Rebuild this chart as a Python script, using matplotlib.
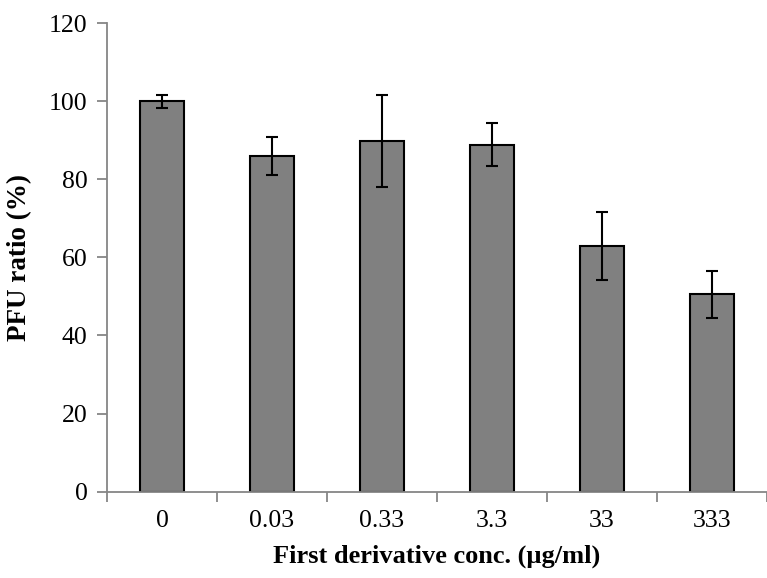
import matplotlib
matplotlib.use("Agg")
import matplotlib.pyplot as plt
import numpy as np

# data
categories = ["0", "0.03", "0.33", "3.3", "33", "333"]
pfu_ratio = [100.0, 86.0, 89.8, 88.8, 62.9, 50.5]
pfu_err = [1.7, 4.8, 11.7, 5.5, 8.6, 6.0]
y_ticks = [0, 20, 40, 60, 80, 100, 120]

plt.rcParams["font.family"] = ["Liberation Serif", "DejaVu Serif"]

fig = plt.figure(figsize=(7.67, 5.78), dpi=100)
ax = fig.add_axes([0.1395, 0.1495, 0.8605, 0.8105])

x = np.arange(len(categories))
ax.bar(x, pfu_ratio, width=0.4, color="#808080", edgecolor="black",
       linewidth=1.5, zorder=2)
ax.errorbar(x, pfu_ratio, yerr=pfu_err, fmt="none", ecolor="black",
            elinewidth=1.5, capsize=4.5, capthick=1.5, zorder=3)

ax.set_xlim(-0.5, len(categories) - 0.5)
ax.set_ylim(0, 120)
ax.set_yticks(y_ticks)
ax.set_yticklabels([str(v) for v in y_ticks])

# ticks sit between categories on the x axis, labels under the bars
ax.set_xticks(np.arange(len(categories) + 1) - 0.5)
ax.set_xticklabels([])
ax.set_xticks(x, minor=True)
ax.set_xticklabels(categories, minor=True)
ax.tick_params(axis="x", which="minor", length=0, pad=13, labelsize=18.5)
ax.tick_params(axis="x", which="major", length=7, width=1.3,
               color="#868686", direction="out")
ax.tick_params(axis="y", length=7, width=1.3, color="#868686",
               direction="out", labelsize=18.5, pad=7)

for side in ("top", "right"):
    ax.spines[side].set_visible(False)
for side in ("left", "bottom"):
    ax.spines[side].set_color("#868686")
    ax.spines[side].set_linewidth(1.3)

ax.set_xlabel("First derivative conc. (µg/ml)", fontsize=19,
              fontweight="bold", labelpad=9)
ax.set_ylabel("PFU ratio (%)", fontsize=19.5, fontweight="bold", labelpad=12)

fig.savefig("out.png", dpi=100)
